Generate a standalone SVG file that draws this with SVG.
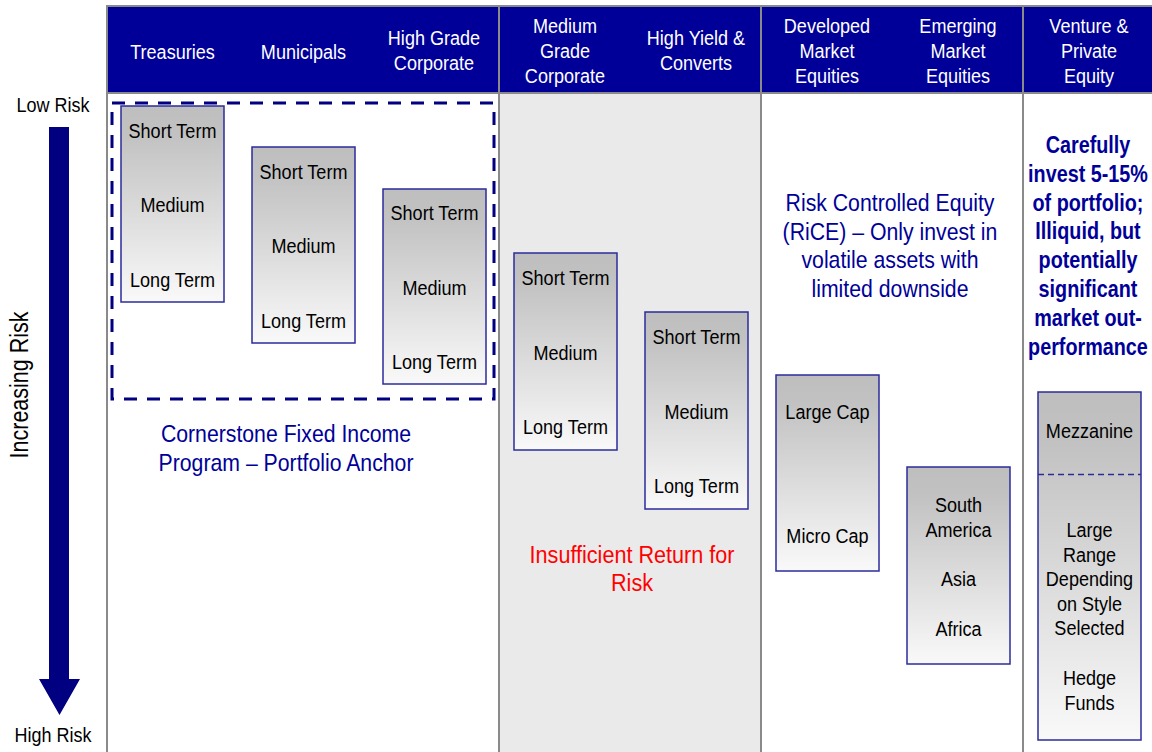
<svg xmlns="http://www.w3.org/2000/svg" width="1152" height="752" viewBox="0 0 1152 752">
<defs>
<linearGradient id="boxgrad" x1="0" y1="0" x2="0" y2="1">
<stop offset="0" stop-color="#BEBEBE"/>
<stop offset="0.15" stop-color="#C2C2C2"/>
<stop offset="1" stop-color="#F9F9F9"/>
</linearGradient>
<style>
text{font-family:"Liberation Sans Narrow","Liberation Sans",Arial,sans-serif;text-anchor:middle;transform-box:fill-box;transform-origin:center}
.hdr{fill:#FFFFFF;font-size:21px;transform:scaleX(0.86)}
.bx{fill:#000000;font-size:21px;transform:scaleX(0.86)}
.box{fill:url(#boxgrad);stroke:#2B2B9C;stroke-width:1.5}
.blue{fill:#000099;font-size:24px;transform:scaleX(0.885)}
.bold{font-weight:bold;font-size:23px;transform:scaleX(0.86)}
.red{fill:#FF0000;font-size:24px;transform:scaleX(0.9)}
.lbl{fill:#000000;font-size:20px;transform:scaleX(0.9)}
.sep{stroke:#8A8A8A;stroke-width:2;fill:none}
</style>
</defs>
<rect x="0" y="0" width="1152" height="752" fill="#FFFFFF"/>
<g id="background">
<rect x="499" y="93" width="262" height="659" fill="#EAEAEA"/>
<rect x="107" y="6" width="1050" height="87" fill="#000099" stroke="#8A8A8A" stroke-width="2"/>
<path class="sep" d="M107,6 V752 M499,6 V752 M761,6 V752 M1023,6 V752 M107,93 H1152"/>
</g>
<g id="headers">
<text class="hdr" x="172.5" y="59">Treasuries</text>
<text class="hdr" x="303.5" y="59">Municipals</text>
<text class="hdr" x="434" y="45.5">High Grade</text>
<text class="hdr" x="434" y="70.5">Corporate</text>
<text class="hdr" x="565" y="33.5">Medium</text>
<text class="hdr" x="565" y="58.5">Grade</text>
<text class="hdr" x="565" y="83.5">Corporate</text>
<text class="hdr" x="696" y="45.5">High Yield &amp;</text>
<text class="hdr" x="696" y="70.5">Converts</text>
<text class="hdr" x="827" y="33.5">Developed</text>
<text class="hdr" x="827" y="58.5">Market</text>
<text class="hdr" x="827" y="83.5">Equities</text>
<text class="hdr" x="958" y="33.5">Emerging</text>
<text class="hdr" x="958" y="58.5">Market</text>
<text class="hdr" x="958" y="83.5">Equities</text>
<text class="hdr" x="1089" y="33.5">Venture &amp;</text>
<text class="hdr" x="1089" y="58.5">Private</text>
<text class="hdr" x="1089" y="83.5">Equity</text>
</g>
<g id="axis-labels">
<text class="lbl" x="53" y="112">Low Risk</text>
<text class="lbl" x="53" y="742">High Risk</text>
<g transform="translate(28,385) rotate(-90) scale(0.86,1)">
<text x="0" y="0" style="font-size:25px;fill:#000000">Increasing Risk</text>
</g>
</g>
<g id="connectors">
<path d="M49,127 H69 V679 H80 L59.5,715 L39,679 H49 Z" fill="#000080"/>
</g>
<g id="cornerstone-group">
<rect x="112" y="103" width="382" height="296" fill="none" stroke="#000080" stroke-width="3" stroke-dasharray="13 10"/>
<text class="blue" x="286" y="442.5">Cornerstone Fixed Income</text>
<text class="blue" x="286" y="471.5">Program – Portfolio Anchor</text>
</g>
<g id="treasuries">
<rect class="box" x="121" y="106" width="103" height="196"/>
<text class="bx" x="172.5" y="138.5">Short Term</text>
<text class="bx" x="172.5" y="212.5">Medium</text>
<text class="bx" x="172.5" y="287.5">Long Term</text>
</g>
<g id="municipals">
<rect class="box" x="252" y="147" width="103" height="196"/>
<text class="bx" x="303.5" y="179.5">Short Term</text>
<text class="bx" x="303.5" y="253.5">Medium</text>
<text class="bx" x="303.5" y="328.5">Long Term</text>
</g>
<g id="high-grade">
<rect class="box" x="383" y="189" width="103" height="195"/>
<text class="bx" x="434.5" y="220.5">Short Term</text>
<text class="bx" x="434.5" y="295.5">Medium</text>
<text class="bx" x="434.5" y="369.5">Long Term</text>
</g>
<g id="medium-grade">
<rect class="box" x="514" y="253" width="103" height="197"/>
<text class="bx" x="565.5" y="285.5">Short Term</text>
<text class="bx" x="565.5" y="360.5">Medium</text>
<text class="bx" x="565.5" y="434.5">Long Term</text>
</g>
<g id="high-yield">
<rect class="box" x="645" y="312" width="103" height="197"/>
<text class="bx" x="696.5" y="344.5">Short Term</text>
<text class="bx" x="696.5" y="419.5">Medium</text>
<text class="bx" x="696.5" y="493.5">Long Term</text>
</g>
<g id="insufficient-note">
<text class="red" x="632" y="563.5">Insufficient Return for</text>
<text class="red" x="632" y="591.5">Risk</text>
</g>
<g id="developed">
<rect class="box" x="776" y="375" width="103" height="196"/>
<text class="bx" x="827.5" y="419.5">Large Cap</text>
<text class="bx" x="827.5" y="543.5">Micro Cap</text>
</g>
<g id="emerging">
<rect class="box" x="907" y="467" width="103" height="197"/>
<text class="bx" x="958.5" y="512.5">South</text>
<text class="bx" x="958.5" y="537.5">America</text>
<text class="bx" x="958.5" y="586.5">Asia</text>
<text class="bx" x="958.5" y="636.5">Africa</text>
</g>
<g id="rice-note">
<text class="blue" x="890" y="211.5">Risk Controlled Equity</text>
<text class="blue" x="890" y="240.5">(RiCE) – Only invest in</text>
<text class="blue" x="890" y="268.5">volatile assets with</text>
<text class="blue" x="890" y="297.5">limited downside</text>
</g>
<g id="venture">
<rect class="box" x="1038" y="392" width="103" height="348"/>
<line x1="1038" y1="474.5" x2="1141" y2="474.5" stroke="#2B2B9C" stroke-width="1.5" stroke-dasharray="6 4"/>
<text class="bx" x="1089.5" y="438.5">Mezzanine</text>
<text class="bx" x="1089.5" y="537.5">Large</text>
<text class="bx" x="1089.5" y="562.5">Range</text>
<text class="bx" x="1089.5" y="586.5">Depending</text>
<text class="bx" x="1089.5" y="611.5">on Style</text>
<text class="bx" x="1089.5" y="635.5">Selected</text>
<text class="bx" x="1089.5" y="685.5">Hedge</text>
<text class="bx" x="1089.5" y="710.5">Funds</text>
</g>
<g id="venture-note">
<text class="blue bold" x="1088" y="153">Carefully</text>
<text class="blue bold" x="1088" y="182">invest 5-15%</text>
<text class="blue bold" x="1088" y="211">of portfolio;</text>
<text class="blue bold" x="1088" y="239">Illiquid, but</text>
<text class="blue bold" x="1088" y="268">potentially</text>
<text class="blue bold" x="1088" y="297">significant</text>
<text class="blue bold" x="1088" y="326">market out-</text>
<text class="blue bold" x="1088" y="355">performance</text>
</g>
</svg>
